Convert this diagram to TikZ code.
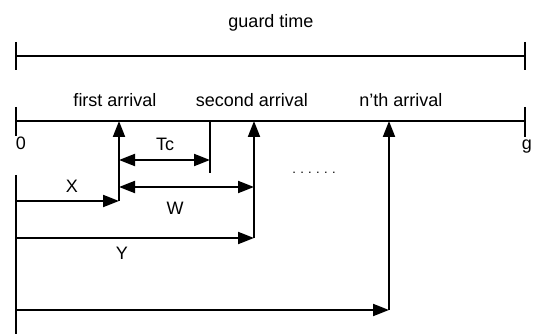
\documentclass[tikz,border=0pt]{standalone}
\usepackage{fontspec}
\setmainfont{Liberation Sans}
\usetikzlibrary{arrows.meta}
\begin{document}
\begin{tikzpicture}[x=1pt,y=-1pt,
  line/.style={line width=2pt},
  tickline/.style={line width=2.8pt},
  arr/.style={line width=2pt,-{Triangle[length=16pt,width=12pt]}},
  darr/.style={line width=2pt,{Triangle[length=16pt,width=12pt]}-{Triangle[length=16pt,width=12pt]}},
  lbl/.style={font=\fontsize{18}{21}\selectfont,anchor=base,inner sep=0pt}]
\useasboundingbox (0,0) rectangle (542,334);
% guard time line
\coordinate (g0) at (16,56);
\coordinate (g1) at (525,56);
\coordinate (g0t) at (16,42); \coordinate (g0b) at (16,70);
\coordinate (g1t) at (525,42); \coordinate (g1b) at (525,70);
\draw[line] (g0) -- (g1);
\draw[tickline] (g0t) -- (g0b);
\draw[tickline] (g1t) -- (g1b);
\node[lbl] (gt) at (271,28) {guard time};
% time line
\coordinate (t0) at (16,121);
\coordinate (t1) at (525,121);
\coordinate (t0t) at (16,107); \coordinate (t0b) at (16,136);
\coordinate (t1t) at (525,107); \coordinate (t1b) at (525,137);
\draw[line] (t0) -- (t1);
\draw[tickline] (t0t) -- (t0b);
\draw[tickline] (t1t) -- (t1b);
\node[lbl] (zero) at (21,150) {0};
\node[lbl] (gee) at (527,150) {g};
% arrivals
\coordinate (fa) at (119,121);
\coordinate (sa) at (254,121);
\coordinate (na) at (389,121);
\node[lbl] (fal) at (115,107) {first arrival};
\node[lbl] (sal) at (252,107) {second arrival};
\node[lbl] (nal) at (401,107) {n'th arrival};
% Tc tick
\coordinate (tct) at (210,121);
\coordinate (tcb) at (210,173);
\draw[line] (tct) -- (tcb);
% left vertical
\coordinate (lt) at (16,175);
\coordinate (lb) at (16,334);
\draw[line] (lt) -- (lb);
% corner points
\coordinate (xs) at (16,201);  \coordinate (xe) at (119,201);
\coordinate (ys) at (16,238);  \coordinate (ye) at (254,238);
\coordinate (ns) at (16,310);  \coordinate (ne) at (389,310);
\coordinate (tc1) at (119,160); \coordinate (tc2) at (210,160);
\coordinate (w1) at (119,187);  \coordinate (w2) at (254,187);
% verticals up to arrivals
\draw[arr] (xe) -- (fa);
\draw[arr] (ye) -- (sa);
\draw[arr] (ne) -- (na);
% horizontal arrows
\draw[arr] (xs) -- (xe);
\draw[arr] (ys) -- (ye);
\draw[arr] (ns) -- (ne);
\draw[darr] (tc1) -- (tc2);
\draw[darr] (w1) -- (w2);
% labels
\node[lbl] (tcl) at (165,151) {Tc};
\node[lbl] (xl) at (72,193) {X};
\node[lbl] (wl) at (175,215) {W};
\node[lbl] (yl) at (122,260) {Y};
\node[lbl,font=\fontsize{13}{16}\selectfont] (dots) at (314,174) {.\,\,.\,\,.\,\,.\,\,.\,\,.};
\end{tikzpicture}
\end{document}
